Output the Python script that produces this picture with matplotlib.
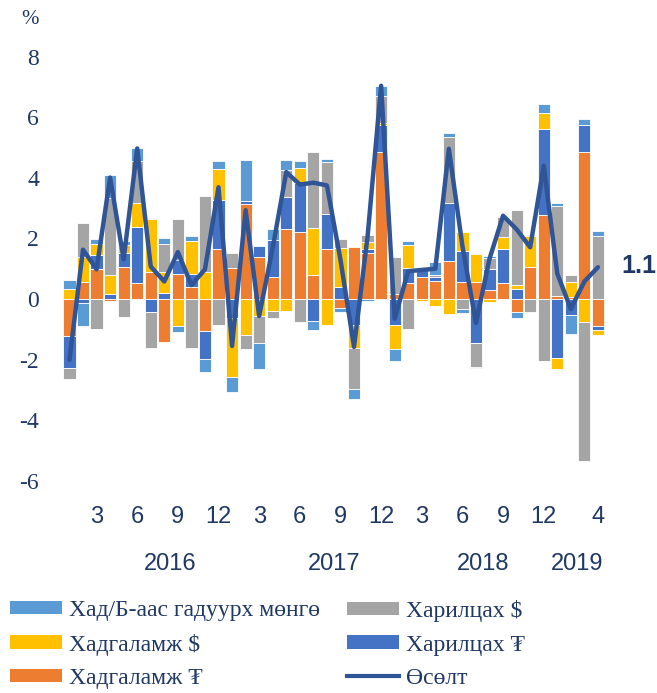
import numpy as np
import matplotlib
matplotlib.use("Agg")
import matplotlib.pyplot as plt
from matplotlib.patches import Patch
from matplotlib.lines import Line2D

# ===============================
# DATOS (2016.01 - 2019.04), хувь нэмэр, %
# ===============================
sar_label = ["3", "6", "9", "12", "3", "6", "9", "12", "3", "6", "9", "12", "4"]
sar_idx = [2, 5, 8, 11, 14, 17, 20, 23, 26, 29, 32, 35, 39]
onuud = ["2016", "2017", "2018", "2019"]
on_idx = [7.4, 19.5, 30.5, 37.5]

hadgalamj_tug = [-1.22, 0.55, 0.98, -0.08, 1.07, 0.52, 0.90, -1.43, 0.83, 0.41,
                 -1.05, 1.65, 1.03, 3.14, 1.38, 0.74, 2.30, 2.22, 0.79, 1.64,
                 -0.31, 1.73, 1.53, 4.86, 0.17, 0.54, 0.74, 0.59, 1.25, 0.55,
                 0.57, 0.30, 0.53, -0.42, 1.07, 2.77, 0.11, 0.08, 4.86, -0.89]
harilts_tug = [-1.04, -0.12, 0.47, 0.17, 0.44, 1.85, -0.42, 0.19, 0.47, 0.42,
               -0.93, 1.62, -0.62, 0.11, 0.37, 1.21, 1.08, 1.60, -0.73, 1.17,
               0.41, -0.86, 0.12, 0.88, -0.86, 0.49, 0.27, 0.15, 1.93, 1.03,
               -1.46, 0.69, 1.11, 0.33, 0.0, 2.83, -1.96, -0.53, 0.90, -0.13]
hadgalamj_usd = [0.33, 0.85, 0.38, 0.64, 0.26, 0.81, 1.73, 0.71, -0.88, 1.10,
                 0.90, 1.01, -1.95, -1.19, -0.56, -0.40, -0.39, 0.51, 1.56, -0.86,
                 1.28, -0.77, 0.24, 0.06, -0.80, 0.74, -0.05, -0.23, -0.51, 0.64,
                 0.92, -0.09, 0.41, 0.13, 1.02, 0.53, -0.36, 0.47, -0.75, -0.17]
harilts_usd = [-0.37, 1.11, -0.99, 2.52, -0.59, 1.39, -1.18, 0.93, 1.33, -1.62,
               2.50, -0.86, 0.48, -0.47, -0.90, -0.21, 0.88, -0.77, 2.50, 1.71,
               0.28, -1.35, 0.22, 0.90, 1.23, -0.99, 0.0, 0.05, 2.18, -0.34,
               -0.77, 0.35, 0.65, 2.48, -0.42, -2.04, 2.96, 0.26, -4.60, 2.08]
gaduur_mongo = [0.30, -0.76, 0.14, 0.77, 0.13, 0.41, 0.04, 0.19, -0.21, 0.15,
                -0.44, 0.27, -0.50, 1.34, -0.85, 0.35, 0.32, 0.22, -0.28, 0.09,
                -0.13, -0.33, -0.05, 0.34, -0.39, 0.14, 0.0, 0.44, 0.11, -0.13,
                -0.05, 0.08, 0.05, -0.22, 0.04, 0.31, 0.09, -0.61, 0.17, 0.16]
osolt = [-2.01, 1.63, 0.98, 4.01, 1.31, 4.97, 1.07, 0.58, 1.55, 0.46,
         0.98, 3.69, -1.55, 2.93, -0.56, 1.69, 4.19, 3.78, 3.84, 3.75,
         1.30, -1.58, 2.06, 7.04, -0.65, 0.92, 0.96, 1.00, 4.96, 1.75,
         -0.79, 1.33, 2.75, 2.30, 1.71, 4.40, 0.84, -0.33, 0.58, 1.05]

# цуврал: (нэр, өгөгдөл, өнгө) - овоолох дарааллаар
tsuvral = [
    ("Хадгаламж ₮", hadgalamj_tug, "#ED7D31"),
    ("Харилцах ₮", harilts_tug, "#4472C4"),
    ("Хадгаламж $", hadgalamj_usd, "#FFC000"),
    ("Харилцах $", harilts_usd, "#A5A5A5"),
    ("Хад/Б-аас гадуурх мөнгө", gaduur_mongo, "#5B9BD5"),
]

TEXT = "#1F3864"
SERIF = "Liberation Serif"
SANS = "Liberation Sans"

# ===============================
# ГРАФИК
# ===============================
fig = plt.figure(figsize=(6.57, 6.93), dpi=100)
ax = fig.add_axes([0.0954, 0.3062, 0.825, 0.612])

x = np.arange(len(osolt))
pos_base = np.zeros(len(x))
neg_base = np.zeros(len(x))
bar_handles = {}
for ner, utga, ongo in tsuvral:
    v = np.array(utga)
    base = np.where(v >= 0, pos_base, neg_base)
    ax.bar(x, v, bottom=base, width=0.9, color=ongo,
           edgecolor="white", linewidth=0.6, zorder=2)
    bar_handles[ner] = Patch(facecolor=ongo, edgecolor="none")
    pos_base += np.where(v >= 0, v, 0)
    neg_base += np.where(v < 0, v, 0)

ax.plot(x, osolt, color="#2F5597", linewidth=3.2, zorder=3,
        solid_joinstyle="round", solid_capstyle="round")

ax.annotate(f"{osolt[-1]:.1f}", xy=(x[-1], osolt[-1]), xytext=(17, 1),
            textcoords="offset points", ha="left", va="center",
            fontsize=18, fontweight="bold", family=SANS, color=TEXT)

ax.set_xlim(-0.5, len(x) - 0.5)
ax.set_ylim(-6, 8)
ax.set_yticks(range(-6, 9, 2))
ax.set_yticklabels([str(t) for t in range(-6, 9, 2)], family=SERIF,
                   fontsize=17, color=TEXT)
ax.set_xticks(sar_idx)
ax.set_xticklabels(sar_label, family=SANS, fontsize=17, color=TEXT)
ax.tick_params(axis="y", length=0, pad=17)
ax.tick_params(axis="x", length=0, pad=18)
for s in ax.spines.values():
    s.set_visible(False)

# он
for i, on in zip(on_idx, onuud):
    ax.text(i, -0.196, on, transform=ax.get_xaxis_transform(),
            ha="center", va="center", fontsize=17, family=SANS, color=TEXT)

fig.text(0.046, 0.972, "%", ha="center", va="center", fontsize=15,
         family=SERIF, color=TEXT)

# ===============================
# ТАЙЛБАР
# ===============================
line_h = Line2D([0], [0], color="#2F5597", linewidth=3)
col1 = ["Хад/Б-аас гадуурх мөнгө", "Хадгаламж $", "Хадгаламж ₮"]
col2 = ["Харилцах $", "Харилцах ₮"]
leg_kw = dict(frameon=False, prop={"family": SERIF, "size": 17},
              handlelength=2.2, handleheight=0.5, handletextpad=0.28,
              labelspacing=0.53, borderpad=0, borderaxespad=0, loc="upper left")
l1 = fig.legend([bar_handles[n] for n in col1], col1,
                bbox_to_anchor=(10 / 657, 1 - 600 / 693), **leg_kw)
l2 = fig.legend([bar_handles[n] for n in col2] + [line_h], col2 + ["Өсөлт"],
                bbox_to_anchor=(347 / 657, 1 - 600 / 693), **leg_kw)
for lg in (l1, l2):
    for t in lg.get_texts():
        t.set_color(TEXT)

fig.savefig("out.png", dpi=100)
